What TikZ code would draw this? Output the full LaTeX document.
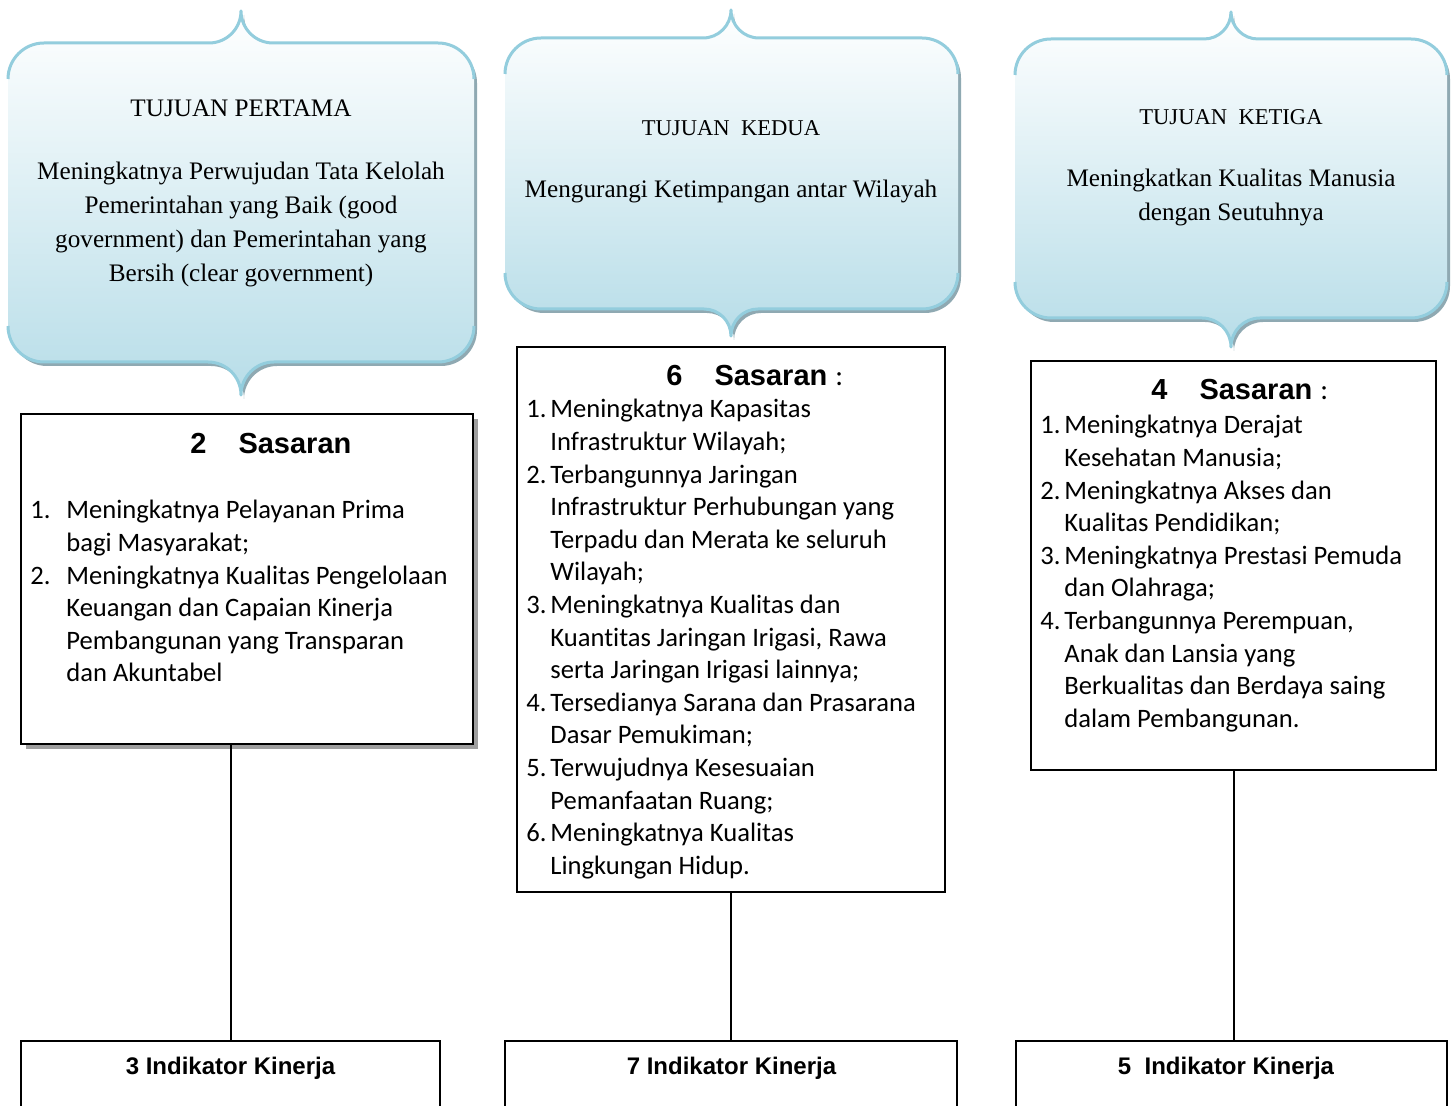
\documentclass[tikz,border=0pt]{standalone}
\usepackage{fontspec}
\setmainfont{Liberation Serif}
\newfontfamily\calfont[Ligatures=NoCommon]{Carlito}
\newfontfamily\arifont{Liberation Sans}
\definecolor{cbord}{HTML}{93CDDD}
\definecolor{cfill}{HTML}{B7DDE8}
\definecolor{cshad}{HTML}{8FA9B2}
% L R T cx ctop
\newcommand\calTop[5]{(#1,{#3+36}) .. controls (#1,{#3+16.1}) and ({#1+16.1},#3) .. ({#1+36},#3)
 -- ({#4-#5},#3) .. controls ({#4-#5+0.5523*#5},#3) and (#4,{#3-#5+0.5523*#5}) .. (#4,{#3-#5})
 .. controls (#4,{#3-#5+0.5523*#5}) and ({#4+#5-0.5523*#5},#3) .. ({#4+#5},#3)
 -- ({#2-36},#3) .. controls ({#2-16.1},#3) and (#2,{#3+16.1}) .. (#2,{#3+36})}
% L R B cx cbot
\newcommand\calBot[5]{(#2,{#3-36}) .. controls (#2,{#3-16.1}) and ({#2-16.1},#3) .. ({#2-36},#3)
 -- ({#4+#5},#3) .. controls ({#4+#5-0.5523*#5},#3) and (#4,{#3+#5-0.5523*#5}) .. (#4,{#3+#5})
 .. controls (#4,{#3+#5-0.5523*#5}) and ({#4-#5+0.5523*#5},#3) .. ({#4-#5},#3)
 -- ({#1+36},#3) .. controls ({#1+16.1},#3) and (#1,{#3-16.1}) .. (#1,{#3-36})}
\newcommand\callout[7]{%
 \fill[cshad] [shift={(3,4)}] \calTop{#1}{#2}{#3}{#5}{#6} -- \calBot{#1}{#2}{#4}{#5}{#7} -- cycle;
 \shade[top color=white, bottom color=cfill] \calTop{#1}{#2}{#3}{#5}{#6} -- \calBot{#1}{#2}{#4}{#5}{#7} -- cycle;
 \draw[cbord, line width=1.5pt, line join=round] \calTop{#1}{#2}{#3}{#5}{#6};
 \draw[cbord, line width=1.5pt, line join=round] \calBot{#1}{#2}{#4}{#5}{#7};}
\tikzset{
 sbox/.style={draw, line width=1pt, fill=white, inner sep=0pt},
 txt/.style={inner sep=0pt, anchor=base},
 txtl/.style={inner sep=0pt, anchor=base west},
 conn/.style={line width=1pt}
}
\newcommand\serifbody{\fontsize{12.6}{16.85}\selectfont}
\newcommand\seriftitle{\fontsize{11.3}{14}\selectfont}
\newcommand\listfont{\calfont\fontsize{13.3}{16.3}\selectfont}
\newcommand\headfont{\arifont\bfseries\fontsize{14.5}{17}\selectfont}
\newcommand\indfont{\arifont\bfseries\fontsize{12}{14}\selectfont}
\begin{document}
\begin{tikzpicture}[x=0.5pt,y=-0.5pt]
\useasboundingbox (0,0) rectangle (1453,1106);
\clip (0,0) rectangle (1453,1106);
\fill[white] (0,0) rectangle (1453,1106);
% callouts
\callout{8}{474}{43}{362}{241}{32}{33}
\callout{505}{958}{38}{309}{731}{28}{27}
\callout{1015}{1447}{39}{318}{1231}{27}{29}
\node[txt] (c1t) at (241,117) {\serifbody TUJUAN PERTAMA};
\node[txt] (c1b) at (241,180) {\serifbody\begin{tabular}[t]{@{}c@{}}Meningkatnya Perwujudan Tata Kelolah\\ Pemerintahan yang Baik (good\\ government) dan Pemerintahan yang\\ Bersih (clear government)\end{tabular}};
\node[txt] (c2t) at (731,136) {\seriftitle TUJUAN\ \ KEDUA};
\node[txt] (c2b) at (731,198) {\serifbody Mengurangi Ketimpangan antar Wilayah};
\node[txt] (c3t) at (1231,125) {\seriftitle TUJUAN\ \ KETIGA};
\node[txt] (c3b) at (1231,187) {\serifbody\begin{tabular}[t]{@{}c@{}}Meningkatkan Kualitas Manusia\\ dengan Seutuhnya\end{tabular}};
% sasaran boxes
\fill[gray!75] (26,419) rectangle (478,749);
\node[sbox, minimum width=226pt, minimum height=165pt] (s1) at (247,579) {};
\node[sbox, minimum width=214pt, minimum height=272.5pt] (s2) at (731,619.5) {};
\node[sbox, minimum width=202.5pt, minimum height=204.5pt] (s3) at (1233.5,565.5) {};
\node[txtl] (s1h) at (190,454) {\headfont 2\hspace{16pt}Sasaran};
\node[txtl] (s2h) at (666,386) {\headfont 6\hspace{16pt}Sasaran\ {\calfont\mdseries :}};
\node[txtl] (s3h) at (1151,400) {\headfont 4\hspace{16pt}Sasaran\ {\calfont\mdseries :}};
\node[txtl] (s1l) at (30,519) {\listfont\begin{tabular}[t]{@{}l@{}l@{}}
\makebox[18pt][l]{1.} & Meningkatnya Pelayanan Prima\\
 & bagi Masyarakat;\\
\makebox[18pt][l]{2.} & Meningkatnya Kualitas Pengelolaan\\
 & Keuangan dan Capaian Kinerja\\
 & Pembangunan yang Transparan\\
 & dan Akuntabel\end{tabular}};
\node[txtl] (s2l) at (526,418) {\listfont\begin{tabular}[t]{@{}l@{}l@{}}
\makebox[12pt][l]{1.} & Meningkatnya Kapasitas\\
 & Infrastruktur Wilayah;\\
\makebox[12pt][l]{2.} & Terbangunnya Jaringan\\
 & Infrastruktur Perhubungan yang\\
 & Terpadu dan Merata ke seluruh\\
 & Wilayah;\\
\makebox[12pt][l]{3.} & Meningkatnya Kualitas dan\\
 & Kuantitas Jaringan Irigasi, Rawa\\
 & serta Jaringan Irigasi lainnya;\\
\makebox[12pt][l]{4.} & Tersedianya Sarana dan Prasarana\\
 & Dasar Pemukiman;\\
\makebox[12pt][l]{5.} & Terwujudnya Kesesuaian\\
 & Pemanfaatan Ruang;\\
\makebox[12pt][l]{6.} & Meningkatnya Kualitas\\
 & Lingkungan Hidup.\end{tabular}};
\node[txtl] (s3l) at (1040,434) {\listfont\begin{tabular}[t]{@{}l@{}l@{}}
\makebox[12pt][l]{1.} & Meningkatnya Derajat\\
 & Kesehatan Manusia;\\
\makebox[12pt][l]{2.} & Meningkatnya Akses dan\\
 & Kualitas Pendidikan;\\
\makebox[12pt][l]{3.} & Meningkatnya Prestasi Pemuda\\
 & dan Olahraga;\\
\makebox[12pt][l]{4.} & Terbangunnya Perempuan,\\
 & Anak dan Lansia yang\\
 & Berkualitas dan Berdaya saing\\
 & dalam Pembangunan.\end{tabular}};
% indicator boxes
\node[sbox, minimum width=209.5pt, minimum height=50pt, anchor=north] (i1) at (230.5,1040) {};
\node[sbox, minimum width=226pt, minimum height=50pt, anchor=north] (i2) at (731,1040) {};
\node[sbox, minimum width=215.5pt, minimum height=50pt, anchor=north] (i3) at (1231.5,1040) {};
\node[txt] (i1t) at (230.5,1074) {\indfont 3 Indikator Kinerja};
\node[txt] (i2t) at (731.5,1074) {\indfont 7 Indikator Kinerja};
\node[txt] (i3t) at (1226,1074) {\indfont 5\ \ Indikator Kinerja};
% connectors
\draw[conn] (s1.south -| i1.north) -- (i1.north);
\draw[conn] (s2.south) -- (i2.north);
\draw[conn] (s3.south) -- (s3.south |- i3.north);
\end{tikzpicture}
\end{document}
